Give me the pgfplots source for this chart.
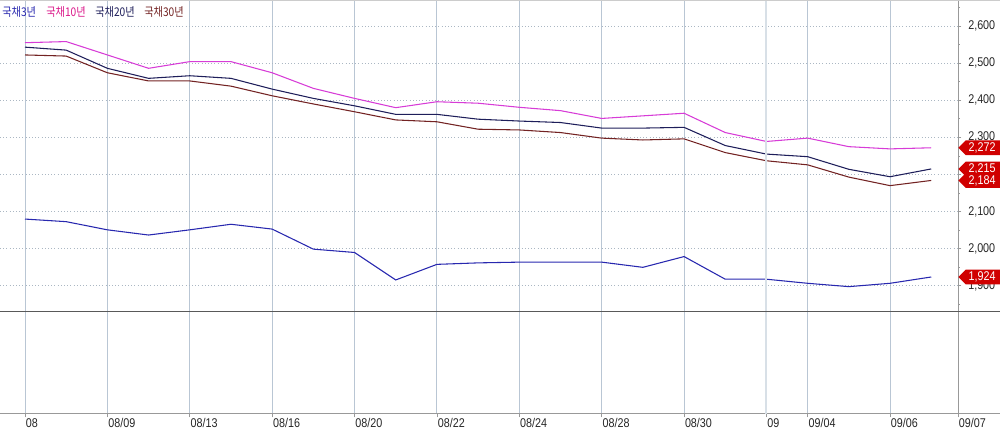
\documentclass[border=0pt]{standalone}
\usepackage{fontspec}
\setmainfont{Liberation Sans}[FakeStretch=0.85]
\newfontfamily\kr{Noto Sans CJK KR}[FakeStretch=0.85]
\usepackage{pgfplots}
\pgfplotsset{compat=1.18}
\usetikzlibrary{shapes.symbols}

\definecolor{c3}{RGB}{40,40,175}
\definecolor{c10}{RGB}{215,60,215}
\definecolor{c20}{RGB}{30,30,90}
\definecolor{c30}{RGB}{115,35,35}
\definecolor{vgrid}{RGB}{185,198,212}
\definecolor{hgrid}{RGB}{150,165,180}
\definecolor{tagred}{RGB}{208,0,0}

% 1 px of the reference = 0.75pt
\pgfplotstableread{
i  y3   y10  y20  y30
0  2080 2555 2543 2522
1  2073 2558 2535 2519
2  2051 2522 2486 2474
3  2037 2486 2459 2452
4  2051 2504 2466 2452
5  2066 2504 2459 2438
6  2053 2474 2430 2412
7  1999 2432 2405 2390
8  1990 2405 2385 2369
9  1916 2380 2362 2347
10 1958 2396 2362 2342
11 1962 2392 2349 2322
12 1964 2381 2344 2320
13 1964 2372 2340 2313
14 1964 2351 2325 2298
15 1950 2358 2325 2293
16 1979 2365 2327 2296
17 1918 2313 2278 2259
18 1918 2289 2255 2237
19 1907 2298 2248 2226
20 1898 2275 2214 2193
21 1907 2269 2194 2170
22 1924 2272 2215 2184
}\rates

\begin{document}
\begin{tikzpicture}
\begin{axis}[
  at={(0,0)}, anchor=south west,
  scale only axis, width=718.5pt, height=310.5pt,
  xmin=-0.607, xmax=22.65, ymin=1555, ymax=2670,
  clip=false,
  axis x line*=bottom, axis y line*=right,
  axis line style={draw=gray!80, line width=0.75pt},
  xtick={0,2,4,6,8,10,12,14,16,18,19,21,22.65},
  xticklabels={08,08/09,08/13,08/16,08/20,08/22,08/24,08/28,08/30,09,09/04,09/06,09/07},
  ytick={1900,2000,...,2600},
  minor ytick={1850,1950,...,2650},
  tick align=outside,
  major tick length=2.5pt, minor tick length=1.2pt,
  tick style={draw=gray!80, line width=0.6pt},
  xmajorgrids, ymajorgrids,
  x grid style={draw=vgrid, line width=0.75pt},
  y grid style={draw=hgrid!80, dotted, line width=0.6pt},
  x tick label style={anchor=north west, inner sep=0pt, xshift=0.5pt, yshift=-0.5pt},
  y tick label style={anchor=west, inner sep=0pt, xshift=5pt},
  tick label style={font=\fontsize{9.5}{10}\selectfont, text=black!85},
  /pgf/number format/assume math mode=true,
  /pgf/number format/1000 sep={,},
  every axis plot/.append style={line width=0.8pt, mark=none},
]
\addplot[c10] table[x=i, y=y10] {\rates};
\addplot[c20] table[x=i, y=y20] {\rates};
\addplot[c30] table[x=i, y=y30] {\rates};
\addplot[c3] table[x=i, y=y3] {\rates};

\draw[vgrid!55, line width=1.5pt] (axis cs:18,1555) -- (axis cs:18,2670);

\begin{scope}[every node/.style={signal, signal to=west, fill=tagred, text=white,
    anchor=west, inner sep=0.5pt, minimum height=11pt, minimum width=34pt,
    font=\fontsize{9.5}{10}\selectfont, align=left, text width=24pt}]
\node at (axis cs:22.65,2272) {2,272};
\node at (axis cs:22.65,2215) {2,215};
\node at (axis cs:22.65,2184) {2,184};
\node at (axis cs:22.65,1924) {1,924};
\end{scope}
\end{axis}

% panel separator, frame lines
\draw[gray!70!black, line width=0.75pt] (0,76.5pt) -- (750pt,76.5pt);
\draw[gray!80, line width=0.75pt] (718.5pt,0) -- (750pt,0);
\draw[gray!40, line width=0.75pt] (0,309.75pt) -- (750pt,309.75pt);

% legend
\begin{scope}[every node/.style={anchor=west, inner sep=0pt, font=\kr\fontsize{9}{9}\selectfont}]
\node[text=c3] at (1.5pt,301.5pt) {국채3년};
\node[text=magenta!90!black] at (34.5pt,301.5pt) {국채10년};
\node[text=c20] at (71.25pt,301.5pt) {국채20년};
\node[text=c30] at (108pt,301.5pt) {국채30년};
\end{scope}

\pgfresetboundingbox
\path (0,-12.75pt) rectangle (750pt,310.5pt);
\end{tikzpicture}
\end{document}
